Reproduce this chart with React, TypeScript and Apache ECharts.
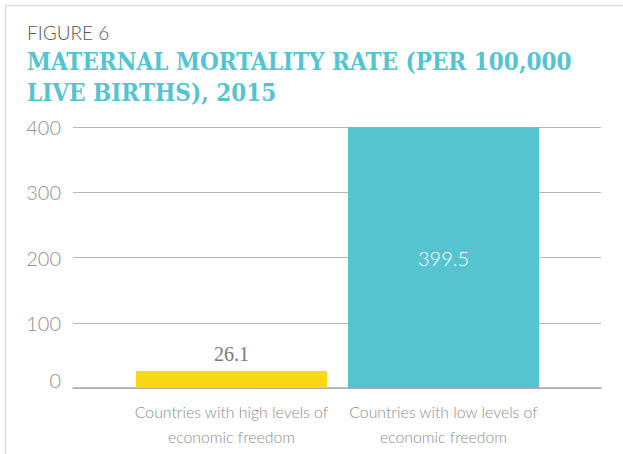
import React, { useEffect, useRef } from "react";
import * as echarts from "echarts";

const categories = [
  "Countries with high levels of\neconomic freedom",
  "Countries with low levels of\neconomic freedom",
];
const values = [26.1, 399.5];
const barColors = ["#F9D916", "#55C3D0"];
const yTicks = [0, 100, 200, 300, 400];
const figureLabel = "FIGURE 6";
const titleLines = ["MATERNAL MORTALITY RATE (PER 100,000", "LIVE BIRTHS), 2015"];

const sans = "Lato, 'Noto Sans', sans-serif";
const slab = "'DejaVu Serif Condensed', 'DejaVu Serif', serif";

export default function App() {
  const ref = useRef<HTMLDivElement>(null);
  useEffect(() => {
    document.body.style.margin = "0";
    const chart = echarts.init(ref.current!, null, { renderer: "svg" });
    const yLabelStyle = {
      color: "#8f8f8f",
      fontFamily: sans,
      fontWeight: 300,
      fontSize: 20,
    };
    chart.setOption({
      animation: false,
      backgroundColor: "#fff",
      grid: [
        { left: 73, right: 22, top: 127, bottom: 66 },
        { left: 125.5, right: 73.5, top: 127, bottom: 66 },
      ],
      xAxis: [
        {
          gridIndex: 0,
          type: "category",
          data: categories,
          axisLine: { show: true, lineStyle: { color: "#aaa", width: 1.5 } },
          axisTick: { show: false },
          axisLabel: { show: false },
        },
        {
          gridIndex: 1,
          type: "category",
          data: categories,
          axisLine: { show: false },
          axisTick: { show: false },
          axisLabel: {
            margin: 11,
            color: "#8c8c8c",
            fontFamily: sans,
            fontWeight: 300,
            fontSize: 15.8,
            lineHeight: 25,
            interval: 0,
          },
        },
      ],
      yAxis: [
        {
          gridIndex: 0,
          type: "value",
          min: yTicks[0],
          max: yTicks[yTicks.length - 1],
          interval: 100,
          axisLine: { show: false },
          axisTick: { show: false },
          splitLine: { lineStyle: { color: "#b5b5b5", width: 1.2 } },
          axisLabel: {
            margin: 12,
            ...yLabelStyle,
            formatter: (v: number) => (v === 0 ? "{z|0}" : "{n|" + v + "}"),
            rich: {
              z: { ...yLabelStyle, padding: [0, 0, 16, 0] },
              n: { ...yLabelStyle },
            },
          },
        },
        {
          gridIndex: 1,
          type: "value",
          min: yTicks[0],
          max: yTicks[yTicks.length - 1],
          interval: 100,
          show: false,
        },
      ],
      series: [
        {
          type: "bar",
          xAxisIndex: 1,
          yAxisIndex: 1,
          barWidth: 191,
          data: values.map((v, i) => ({
            value: v,
            itemStyle: { color: barColors[i] },
            label: {
              show: true,
              position: i === 0 ? "top" : "inside",
              distance: 7,
              color: i === 0 ? "#7a7a7a" : "#fff",
              fontSize: 20,
              fontFamily: i === 0 ? "'Liberation Serif', serif" : sans,
              fontWeight: i === 0 ? "normal" : 300,
            },
          })),
        },
      ],
      graphic: [
        {
          type: "line",
          shape: { x1: 5.5, y1: 5.5, x2: 623, y2: 5.5 },
          style: { stroke: "#dedede", lineWidth: 1.5 },
        },
        {
          type: "line",
          shape: { x1: 5.5, y1: 5.5, x2: 5.5, y2: 454 },
          style: { stroke: "#dedede", lineWidth: 1.5 },
        },
        {
          type: "text",
          left: 27,
          top: 23,
          style: {
            text: figureLabel,
            fill: "#555",
            font: `300 19px ${sans}`,
          },
        },
        {
          type: "text",
          left: 27,
          top: 49,
          style: {
            text: titleLines[0],
            fill: "#55C3D0",
            font: `bold 24px ${slab}`,
          },
        },
        {
          type: "text",
          left: 27,
          top: 80,
          style: {
            text: titleLines[1],
            fill: "#55C3D0",
            font: `bold 24px ${slab}`,
          },
        },
      ],
    });
    return () => chart.dispose();
  }, []);
  return (
    <div
      ref={ref}
      style={{ position: "absolute", left: 0, top: 0, width: 623, height: 454 }}
    />
  );
}
